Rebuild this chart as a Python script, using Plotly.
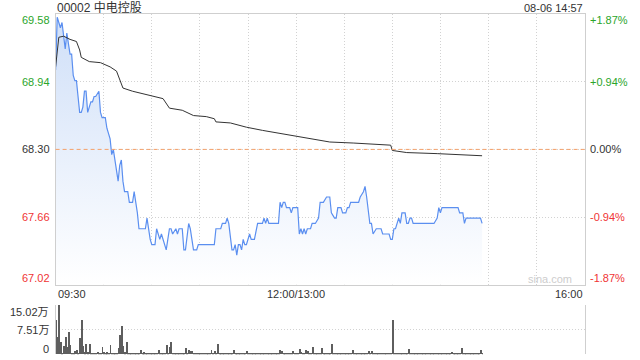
import plotly.graph_objects as go

# ---------------- data ----------------
title_text = "00002 中电控股"
stamp_text = "08-06 14:57"

# minutes since 09:30 (trading minutes, 12:00-13:00 lunch removed)
minutes = [0, 1, 2, 3, 4, 5, 6, 7, 8, 9, 10, 11, 12, 13, 14, 15, 16, 17, 18, 19, 20, 21, 22, 23, 24, 25,
           27, 28, 29, 31, 32, 34, 35, 36, 37, 38, 39, 40, 41, 42, 43, 45, 46, 48, 49, 50, 51, 52, 56, 57,
           59, 60, 62, 63, 64, 65, 66, 68, 69, 71, 72, 73, 75, 76, 77, 79, 80, 81, 83, 84, 86, 88, 89, 99,
           100, 103, 104, 106, 107, 108, 110, 111, 112, 113, 114, 115, 116, 117, 118, 119, 120, 121, 122,
           124, 126, 129, 130, 131, 132, 133, 139, 140, 141, 142, 143, 144, 146, 147, 148, 151, 152, 153,
           154, 155, 156, 157, 159, 160, 162, 164, 165, 167, 169, 171, 172, 174, 175, 176, 178, 179, 181,
           182, 183, 184, 189, 190, 192, 193, 194, 196, 197, 198, 200, 203, 204, 208, 209, 210, 211, 212,
           213, 214, 215, 216, 218, 219, 220, 221, 222, 223, 236, 238, 239, 240, 241, 251, 252, 254, 255,
           256, 265, 266]
price = [69.05, 69.55, 69.50, 69.45, 69.50, 69.35, 69.25, 69.40, 69.30, 69.20, 69.20, 69.00, 68.95, 68.95,
         68.80, 68.65, 68.65, 68.70, 68.85, 68.85, 68.65, 68.70, 68.75, 68.75, 68.80, 68.80,
         68.85, 68.65, 68.60, 68.60, 68.50, 68.40, 68.25, 68.30, 68.20, 68.10, 68.00, 68.15, 68.20, 68.00,
         67.90, 67.90, 67.80, 67.80, 67.90, 67.80, 67.70, 67.55, 67.55, 67.65,
         67.45, 67.40, 67.40, 67.55, 67.50, 67.45, 67.50, 67.40, 67.35, 67.55, 67.55, 67.50, 67.55, 67.50,
         67.55, 67.55, 67.35, 67.35, 67.60, 67.55, 67.35, 67.35, 67.40, 67.40,
         67.55, 67.55, 67.60, 67.60, 67.65, 67.60, 67.35, 67.35, 67.40, 67.30, 67.40, 67.40, 67.35, 67.45,
         67.40, 67.40, 67.45, 67.50, 67.45,
         67.45, 67.60, 67.60, 67.65, 67.60, 67.65, 67.60, 67.60, 67.80, 67.75, 67.80, 67.80, 67.75, 67.75,
         67.70, 67.75, 67.75, 67.50, 67.55,
         67.50, 67.55, 67.50, 67.55, 67.55, 67.60, 67.60, 67.65, 67.80, 67.80, 67.85, 67.85, 67.70, 67.65,
         67.65, 67.75, 67.75, 67.70, 67.70,
         67.75, 67.75, 67.80, 67.80, 67.85, 67.90, 67.95, 67.85, 67.60, 67.60, 67.50, 67.55, 67.55, 67.50,
         67.50, 67.45, 67.45, 67.55, 67.55,
         67.60, 67.65, 67.60, 67.70, 67.70, 67.60, 67.60, 67.65, 67.65, 67.60, 67.60, 67.65, 67.75, 67.70,
         67.75, 67.75, 67.70, 67.70, 67.60,
         67.65, 67.65, 67.60]

avg_minutes = [0, 2, 5, 9, 13, 15, 16, 21, 28, 34, 38, 40, 42, 48, 59, 67, 71, 79, 86, 94, 99, 100, 109,
               119, 129, 140, 150, 161, 165, 171, 186, 196, 209, 210, 219, 238, 252, 266]
avg_price = [69.08, 69.36, 69.37, 69.34, 69.32, 69.24, 69.17, 69.13, 69.12, 69.08, 69.04, 68.95, 68.88,
             68.85, 68.81, 68.78, 68.69, 68.67, 68.62, 68.61, 68.59, 68.56, 68.55, 68.51, 68.48, 68.45,
             68.42, 68.39, 68.38, 68.37, 68.36, 68.35, 68.34, 68.29, 68.27, 68.26, 68.25, 68.24]

# per-minute volume, in 万 shares
volume = [10.3, 5.4, 15.0, 3.9, 0.5, 2.5, 5.4, 2.3, 6.9, 2.8, 0.5, 0.5, 1.0, 1.2, 0.3, 5.1, 10.5, 2.6, 0.6,
          3.2, 0.6, 3.2, 0.5, 0.3, 0.2, 0.3, 0.8, 0.2, 0.3, 2.3, 0.6, 0.3, 0.6, 0.2, 2.8, 0.5, 0.3, 0.5,
          0.2, 1.8, 5.9, 8.7, 2.5, 0.6, 3.6, 0.3, 0.2, 0.3, 0.4, 0.2, 0.4, 0.2, 0.3, 1.2, 0.3, 0.6, 0.2,
          0.4, 0.4, 0.2, 0.3, 0.4, 0.2, 0.3, 1.2, 0.3, 0.2, 0.3, 0.2, 2.8, 0.3, 2.3, 3.6, 0.3, 0.2, 0.3,
          0.5, 0.2, 0.3, 0.2, 0.3, 1.8, 0.5, 1.2, 1.0, 1.0, 0.3, 0.2, 0.2, 0.3, 0.2, 0.2, 0.3, 0.2, 0.2,
          0.3, 0.2, 1.4, 0.3, 1.0, 0.3, 3.2, 0.5, 0.3, 0.2, 0.3, 0.2, 0.2, 0.3, 0.2, 0.3, 1.4, 0.5, 0.3,
          0.5, 0.5, 0.3, 0.2, 0.3, 0.9, 0.3, 0.2, 0.5, 0.3, 0.2, 0.5, 0.3, 0.5, 0.2, 0.3, 0.5, 0.2, 0.5,
          0.3, 0.2, 0.3, 0.2, 0.3, 0.2, 0.3, 1.3, 0.9, 0.4, 0.2, 0.3, 0.2, 0.3, 0.2, 1.0, 0.3, 0.2, 0.3,
          1.5, 0.8, 0.3, 0.2, 1.2, 0.9, 0.3, 0.2, 2.3, 0.3, 0.2, 0.4, 0.3, 0.2, 1.8, 0.3, 0.2, 0.3, 0.2,
          0.3, 3.2, 0.3, 0.2, 0.3, 0.2, 0.3, 0.3, 0.2, 0.3, 0.2, 0.3, 0.2, 0.3, 1.2, 0.3, 0.2, 0.3, 0.2,
          0.4, 0.3, 0.2, 0.3, 0.2, 0.9, 0.3, 0.9, 0.5, 0.5, 0.3, 0.2, 0.3, 0.2, 0.3, 0.2, 0.3, 0.2, 0.3,
          0.2, 10.5, 0.3, 0.2, 0.3, 0.2, 0.3, 0.2, 0.5, 0.3, 0.2, 1.6, 0.3, 0.2, 0.3, 0.2, 0.3, 0.2, 0.3,
          0.2, 0.3, 0.2, 0.3, 0.2, 0.3, 0.2, 0.3, 0.5, 0.2, 0.3, 0.2, 0.3, 0.2, 0.3, 0.2, 0.3, 0.2, 0.3,
          0.7, 0.2, 0.3, 0.2, 0.3, 0.2, 1.9, 0.3, 0.2, 0.3, 0.2, 0.3, 0.2, 0.3, 0.2, 0.3, 0.2, 0.3, 1.2,
          0.3]

prev_close = 68.30
price_ticks = [69.58, 68.94, 68.30, 67.66, 67.02]
pct_labels = ["+1.87%", "+0.94%", "0.00%", "-0.94%", "-1.87%"]
vol_ticks = [15.02, 7.51, 0]
vol_labels = ["15.02万", "7.51万", "0"]
time_ticks = [0, 150, 330]
time_labels = ["09:30", "12:00/13:00", "16:00"]
grid_minutes = [30, 60, 90, 120, 150, 180, 210, 240, 270, 300]

# ---------------- styling ----------------
FONT = "Liberation Sans, Arial, Noto Sans CJK SC, sans-serif"
GREEN = "#2aa52a"
RED = "#f03434"
DARK = "#333333"
GRID = "#d2d2d2"
BORDER = "#cfcfcf"
DOM_X = [55.6 / 640, 584.7 / 640]
DOM_Y = [1 - 284.8 / 360, 1 - 14.0 / 360]
DOM_Y2 = [1 - 354.3 / 360, 1 - 305.0 / 360]

fig = go.Figure()
fig.add_trace(go.Scatter(
    x=minutes, y=price, mode="lines",
    line=dict(color="#5b8ff0", width=1.2),
    fill="tozeroy",
    fillgradient=dict(type="vertical",
                      colorscale=[[0, "rgba(255,255,255,1)"], [1, "rgba(207,223,248,1)"]],
                      start=67.02, stop=69.58),
    xaxis="x", yaxis="y", hoverinfo="skip"))
fig.add_trace(go.Scatter(
    x=avg_minutes, y=avg_price, mode="lines",
    line=dict(color="#333333", width=1),
    xaxis="x", yaxis="y", hoverinfo="skip"))
fig.add_trace(go.Bar(
    x=list(range(len(volume))), y=volume,
    marker=dict(color="#5e5e5e", line=dict(width=0)), width=0.6,
    xaxis="x2", yaxis="y2", hoverinfo="skip"))

def tick_color(v):
    if v > prev_close:
        return GREEN
    if v < prev_close:
        return RED
    return DARK

ann = []
ann.append(dict(text=title_text, xref="paper", yref="paper", x=DOM_X[0] - 0.0015, y=1 - 7.5 / 360,
                xanchor="left", yanchor="middle", showarrow=False, font=dict(size=12, color=DARK, family=FONT)))
ann.append(dict(text=stamp_text, xref="paper", yref="paper", x=DOM_X[1] + 0.001, y=1 - 7.5 / 360,
                xanchor="right", yanchor="middle", showarrow=False, font=dict(size=11, color=DARK, family=FONT)))
for i, (v, p) in enumerate(zip(price_ticks, pct_labels)):
    shift = -6 if i == 0 else (7 if i == len(price_ticks) - 1 else 0)
    c = tick_color(v)
    ann.append(dict(text=f"{v:.2f}", xref="paper", yref="y", x=52 / 640, y=v, yshift=shift,
                    xanchor="right", yanchor="middle", showarrow=False,
                    font=dict(size=11, color=c, family=FONT)))
    ann.append(dict(text=p, xref="paper", yref="y", x=588 / 640, y=v, yshift=shift,
                    xanchor="left", yanchor="middle", showarrow=False,
                    font=dict(size=11, color=c, family=FONT)))
for i, (v, lab) in enumerate(zip(vol_ticks, vol_labels)):
    shift = -7 if i == 0 else (5 if i == len(vol_ticks) - 1 else 0)
    ann.append(dict(text=lab, xref="paper", yref="y2", x=51 / 640, y=v, yshift=shift,
                    xanchor="right", yanchor="middle", showarrow=False,
                    font=dict(size=11, color=DARK, family=FONT)))
for t, lab in zip(time_ticks, time_labels):
    anchor = "left" if t == time_ticks[0] else ("right" if t == time_ticks[-1] else "center")
    ann.append(dict(text=lab, xref="x", yref="paper", x=t, y=1 - 293.5 / 360,
                    xanchor=anchor, yanchor="middle", showarrow=False,
                    font=dict(size=11, color=DARK, family=FONT)))
ann.append(dict(text="sina.com", xref="paper", yref="paper", x=574 / 640, y=1 - 279 / 360,
                xanchor="right", yanchor="middle", showarrow=False,
                font=dict(size=11, color="#cdcdcd", family=FONT)))

fig.update_layout(
    width=640, height=360,
    margin=dict(l=0, r=0, t=0, b=0),
    paper_bgcolor="white", plot_bgcolor="white",
    showlegend=False, bargap=0,
    annotations=ann,
    shapes=[dict(type="line", xref="x domain", x0=0, x1=1, yref="y", y0=prev_close, y1=prev_close,
                 line=dict(color="#f4a06a", width=1, dash="4px,3px"), layer="above")],
    xaxis=dict(domain=DOM_X, range=[0, 330], anchor="y", tickvals=grid_minutes,
               showticklabels=False, ticks="", showgrid=True, gridcolor=GRID, griddash="1px,2px",
               gridwidth=1, showline=True, mirror=True, linecolor=BORDER, linewidth=1, zeroline=False),
    yaxis=dict(domain=DOM_Y, range=[67.02, 69.58], anchor="x", tickvals=[67.66, 68.30, 68.94],
               showticklabels=False, ticks="", showgrid=True, gridcolor=GRID, griddash="1px,2px",
               showline=True, mirror=True, linecolor=BORDER, linewidth=1, zeroline=False),
    xaxis2=dict(domain=DOM_X, range=[0, 330], anchor="y2", showticklabels=False, ticks="",
                showgrid=False, showline=False, zeroline=False),
    yaxis2=dict(domain=DOM_Y2, range=[0, 15.02], anchor="x2", tickvals=[7.51, 15.02],
                showticklabels=False, ticks="", showgrid=True, gridcolor=GRID, griddash="1px,2px",
                showline=True, mirror=True, linecolor=BORDER, linewidth=1, zeroline=False),
)

fig.write_html("out.html")
